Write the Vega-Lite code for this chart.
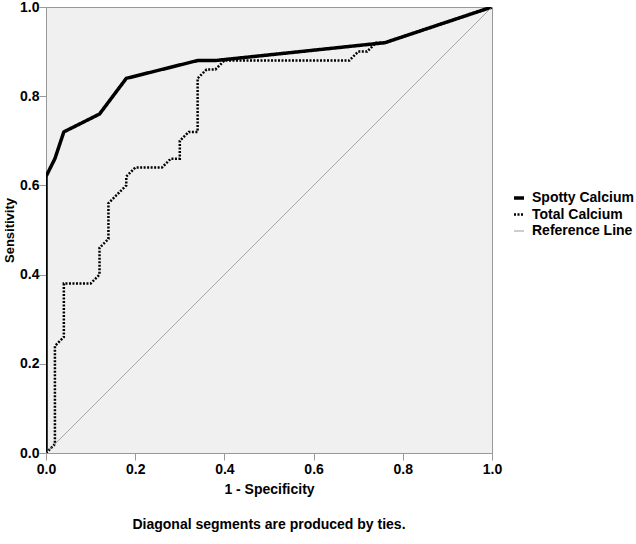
{
  "$schema": "https://vega.github.io/schema/vega-lite/v6.json",
  "autosize": {"type": "none"},
  "width": 446,
  "height": 446,
  "padding": {"left": 46, "top": 7, "right": 144, "bottom": 91},
  "background": "white",
  "title": {
    "text": "Diagonal segments are produced by ties.",
    "orient": "bottom",
    "anchor": "middle",
    "offset": 22,
    "font": "Liberation Sans",
    "fontSize": 14,
    "fontWeight": "bold",
    "color": "black"
  },
  "config": {
    "view": {"fill": "#f0f0f0", "stroke": "#999999", "strokeWidth": 1},
    "axis": {
      "labelFont": "Liberation Sans",
      "labelFontSize": 14,
      "labelFontWeight": "bold",
      "labelColor": "black",
      "labelOverlap": false,
      "labelFlush": false,
      "titleFont": "Liberation Sans",
      "titleFontSize": 14,
      "titleFontWeight": "bold",
      "titleColor": "black",
      "domainColor": "#999999",
      "tickColor": "#999999",
      "tickSize": 7,
      "grid": false
    },
    "legend": {
      "labelFont": "Liberation Sans",
      "labelFontSize": 14,
      "labelFontWeight": "bold",
      "labelColor": "black"
    }
  },
  "data": {
    "values": [
      {"series": "Spotty Calcium", "i": 0, "fpr": 0.0, "tpr": 0.0},
      {"series": "Spotty Calcium", "i": 1, "fpr": 0.0, "tpr": 0.62},
      {"series": "Spotty Calcium", "i": 2, "fpr": 0.02, "tpr": 0.66},
      {"series": "Spotty Calcium", "i": 3, "fpr": 0.04, "tpr": 0.72},
      {"series": "Spotty Calcium", "i": 4, "fpr": 0.12, "tpr": 0.76},
      {"series": "Spotty Calcium", "i": 5, "fpr": 0.18, "tpr": 0.84},
      {"series": "Spotty Calcium", "i": 6, "fpr": 0.34, "tpr": 0.88},
      {"series": "Spotty Calcium", "i": 7, "fpr": 0.38, "tpr": 0.88},
      {"series": "Spotty Calcium", "i": 8, "fpr": 0.76, "tpr": 0.92},
      {"series": "Spotty Calcium", "i": 9, "fpr": 1.0, "tpr": 1.0},
      {"series": "Total Calcium", "i": 0, "fpr": 0.0, "tpr": 0.0},
      {"series": "Total Calcium", "i": 1, "fpr": 0.02, "tpr": 0.02},
      {"series": "Total Calcium", "i": 2, "fpr": 0.02, "tpr": 0.24},
      {"series": "Total Calcium", "i": 3, "fpr": 0.04, "tpr": 0.26},
      {"series": "Total Calcium", "i": 4, "fpr": 0.04, "tpr": 0.38},
      {"series": "Total Calcium", "i": 5, "fpr": 0.10, "tpr": 0.38},
      {"series": "Total Calcium", "i": 6, "fpr": 0.12, "tpr": 0.40},
      {"series": "Total Calcium", "i": 7, "fpr": 0.12, "tpr": 0.46},
      {"series": "Total Calcium", "i": 8, "fpr": 0.14, "tpr": 0.48},
      {"series": "Total Calcium", "i": 9, "fpr": 0.14, "tpr": 0.56},
      {"series": "Total Calcium", "i": 10, "fpr": 0.18, "tpr": 0.60},
      {"series": "Total Calcium", "i": 11, "fpr": 0.18, "tpr": 0.62},
      {"series": "Total Calcium", "i": 12, "fpr": 0.20, "tpr": 0.64},
      {"series": "Total Calcium", "i": 13, "fpr": 0.26, "tpr": 0.64},
      {"series": "Total Calcium", "i": 14, "fpr": 0.28, "tpr": 0.66},
      {"series": "Total Calcium", "i": 15, "fpr": 0.30, "tpr": 0.66},
      {"series": "Total Calcium", "i": 16, "fpr": 0.30, "tpr": 0.70},
      {"series": "Total Calcium", "i": 17, "fpr": 0.32, "tpr": 0.72},
      {"series": "Total Calcium", "i": 18, "fpr": 0.34, "tpr": 0.72},
      {"series": "Total Calcium", "i": 19, "fpr": 0.34, "tpr": 0.84},
      {"series": "Total Calcium", "i": 20, "fpr": 0.36, "tpr": 0.86},
      {"series": "Total Calcium", "i": 21, "fpr": 0.38, "tpr": 0.86},
      {"series": "Total Calcium", "i": 22, "fpr": 0.40, "tpr": 0.88},
      {"series": "Total Calcium", "i": 23, "fpr": 0.68, "tpr": 0.88},
      {"series": "Total Calcium", "i": 24, "fpr": 0.70, "tpr": 0.90},
      {"series": "Total Calcium", "i": 25, "fpr": 0.72, "tpr": 0.90},
      {"series": "Total Calcium", "i": 26, "fpr": 0.74, "tpr": 0.92},
      {"series": "Total Calcium", "i": 27, "fpr": 0.76, "tpr": 0.92},
      {"series": "Total Calcium", "i": 28, "fpr": 1.0, "tpr": 1.0},
      {"series": "Reference Line", "i": 0, "fpr": 0.0, "tpr": 0.0},
      {"series": "Reference Line", "i": 1, "fpr": 1.0, "tpr": 1.0}
    ]
  },
  "mark": {"type": "line", "strokeCap": "butt", "strokeJoin": "miter", "clip": true},
  "encoding": {
    "x": {
      "field": "fpr", "type": "quantitative",
      "scale": {"domain": [0, 1], "nice": false, "zero": false},
      "axis": {"title": "1 - Specificity", "format": ".1f", "values": [0, 0.2, 0.4, 0.6, 0.8, 1.0], "labelPadding": 2, "titlePadding": 6}
    },
    "y": {
      "field": "tpr", "type": "quantitative",
      "scale": {"domain": [0, 1], "nice": false, "zero": false},
      "axis": {"title": "Sensitivity", "titleFontSize": 13, "format": ".1f", "values": [0, 0.2, 0.4, 0.6, 0.8, 1.0], "labelPadding": 0, "titlePadding": 3}
    },
    "order": {"field": "i", "type": "quantitative"},
    "color": {
      "field": "series", "type": "nominal",
      "scale": {"domain": ["Spotty Calcium", "Total Calcium", "Reference Line"], "range": ["black", "black", "#808080"]},
      "legend": {
        "title": null,
        "orient": "none",
        "legendX": 466,
        "legendY": 184,
        "symbolType": "stroke",
        "symbolSize": 100,
        "rowPadding": 2.5,
        "labelOffset": 6
      }
    },
    "strokeDash": {
      "field": "series", "type": "nominal",
      "scale": {"domain": ["Spotty Calcium", "Total Calcium", "Reference Line"], "range": [[1, 0], [2, 1.5], [1, 0]]}
    },
    "strokeWidth": {
      "field": "series", "type": "nominal",
      "scale": {"type": "ordinal", "domain": ["Spotty Calcium", "Total Calcium", "Reference Line"], "range": [3.5, 2.5, 0.8]}
    }
  }
}
